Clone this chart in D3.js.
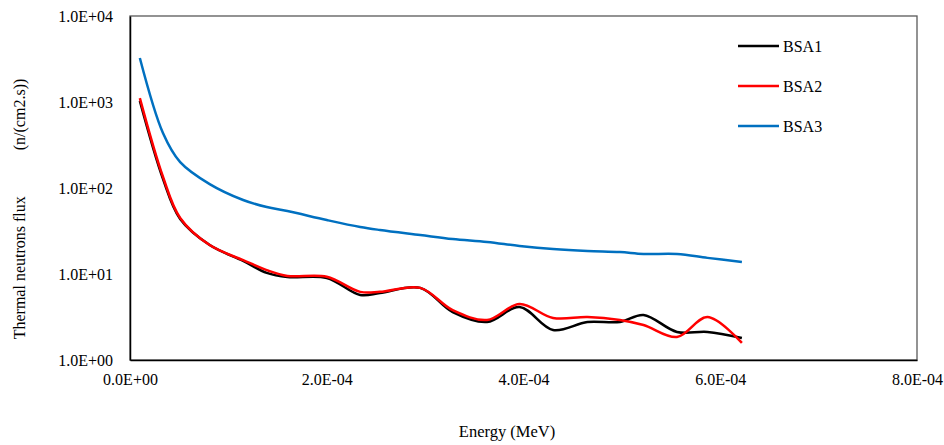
<!DOCTYPE html>
<html>
<head>
<meta charset="utf-8">
<script src="https://cdn.jsdelivr.net/npm/d3@7"></script>
<style>
  body { margin: 0; background: #fff; }
  #chart { width: 944px; height: 445px; }
  svg text { font-family: "Liberation Serif", "DejaVu Serif", serif !important; }
</style>
</head>
<body>
<div id="chart"></div>
<script>
// energies (MeV) shared by the three series
var energy = [1.0e-5, 3.35e-5, 5.1e-5, 8.1e-5, 1.15e-4, 1.39e-4, 1.6e-4, 2.0e-4, 2.34e-4, 2.54e-4,
              2.95e-4, 3.28e-4, 3.63e-4, 3.96e-4, 4.3e-4, 4.65e-4, 4.98e-4, 5.22e-4, 5.56e-4, 5.87e-4, 6.22e-4];
var bsa1 = [1030, 128, 43.6, 21.7, 14.2, 10.3, 9.2, 9.0, 5.7, 6.0,
            6.9, 3.6, 2.77, 4.13, 2.23, 2.77, 2.77, 3.34, 2.12, 2.12, 1.80];
var bsa2 = [1110, 135, 44.8, 21.7, 14.5, 11.1, 9.5, 9.3, 6.2, 6.2,
            6.9, 3.8, 2.92, 4.48, 3.08, 3.16, 2.92, 2.55, 1.85, 3.16, 1.58];
var bsa3 = [3250, 436, 200, 111, 72.5, 60, 54, 42.4, 35.2, 32.5,
            28.4, 25.5, 23.6, 21.2, 19.5, 18.5, 18.0, 17.1, 17.1, 15.4, 13.8];
var seriesNames = ['BSA1', 'BSA2', 'BSA3'];
var seriesColours = ['#000000', '#ff0000', '#0070c0'];
var xTicks = [0, 2e-4, 4e-4, 6e-4, 8e-4];
var xTickLabels = ['0.0E+00', '2.0E-04', '4.0E-04', '6.0E-04', '8.0E-04'];
var yTicks = [1, 10, 100, 1000, 10000];
var yTickLabels = ['1.0E+00', '1.0E+01', '1.0E+02', '1.0E+03', '1.0E+04'];

var font = '"Liberation Serif", "DejaVu Serif", serif';

var margin = {top: 16, right: 27, bottom: 85, left: 130},
    width = 944 - margin.left - margin.right,
    height = 445 - margin.top - margin.bottom;

var svg = d3.select('#chart').append('svg')
    .attr('width', 944)
    .attr('height', 445)
    .attr('font-family', font)
  .append('g')
    .attr('transform', 'translate(' + margin.left + ',' + margin.top + ')');

var x = d3.scaleLinear().domain([0, 8e-4]).range([0, width]);
var y = d3.scaleLog().domain([1, 10000]).range([height, 0]);

// plot frame
svg.append('rect')
    .attr('width', width)
    .attr('height', height)
    .attr('fill', 'none')
    .attr('stroke', '#595959')
    .attr('stroke-width', 1.3);

// x axis
var xAxisGroup = svg.append('g')
    .attr('transform', 'translate(0,' + height + ')')
    .call(d3.axisBottom(x).tickValues(xTicks).tickSize(0).tickPadding(14)
      .tickFormat(function(d, i) { return xTickLabels[i]; }));
xAxisGroup.attr('font-family', font).attr('font-size', 16);
xAxisGroup.select('path.domain').attr('stroke', '#000').attr('stroke-width', 1.5);
xAxisGroup.selectAll('text').attr('fill', '#000');

// y axis
var yAxisGroup = svg.append('g')
    .call(d3.axisLeft(y).tickValues(yTicks).tickSize(0).tickPadding(17)
      .tickFormat(function(d, i) { return yTickLabels[i]; }));
yAxisGroup.attr('font-family', font).attr('font-size', 16);
yAxisGroup.select('path.domain').attr('stroke', '#000').attr('stroke-width', 1.5);
yAxisGroup.selectAll('text').attr('fill', '#000');

// lines
var line = d3.line()
    .x(function(d) { return x(d[0]); })
    .y(function(d) { return y(d[1]); })
    .curve(d3.curveCatmullRom.alpha(0.5));

[bsa1, bsa2, bsa3].forEach(function(vals, i) {
  svg.append('path')
      .datum(energy.map(function(e, j) { return [e, vals[j]]; }))
      .attr('fill', 'none')
      .attr('stroke', seriesColours[i])
      .attr('stroke-width', 2.5)
      .attr('d', line);
});

// legend
var legend = svg.append('g')
    .attr('transform', 'translate(' + (738 - margin.left) + ',' + (46 - margin.top) + ')');
seriesNames.forEach(function(name, i) {
  legend.append('line')
      .attr('x1', 0).attr('x2', 41)
      .attr('y1', i * 40).attr('y2', i * 40)
      .attr('stroke', seriesColours[i])
      .attr('stroke-width', 2.5);
  legend.append('text')
      .attr('x', 45)
      .attr('y', i * 40 + 5.5)
      .attr('font-size', 16)
      .text(name);
});

// axis titles
svg.append('text')
    .attr('x', 507 - margin.left)
    .attr('y', height + 77)
    .attr('text-anchor', 'middle')
    .attr('font-size', 16.5)
    .text('Energy (MeV)');

var yTitle = svg.append('text')
    .attr('transform', 'translate(' + (25 - margin.left) + ',' + (209 - margin.top) + ') rotate(-90)')
    .attr('text-anchor', 'middle')
    .attr('font-size', 16);
yTitle.append('tspan').text('Thermal neutrons flux');
yTitle.append('tspan').attr('dx', 46).text('(n/(cm2.s))');
</script>
</body>
</html>
